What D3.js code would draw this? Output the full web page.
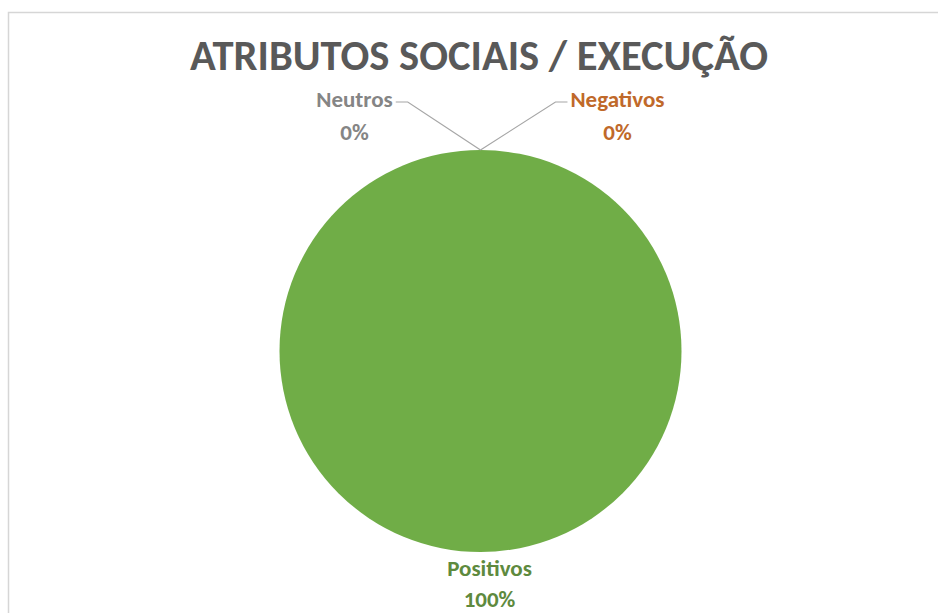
<!DOCTYPE html>
<html>
<head>
<meta charset="utf-8">
<script src="https://cdn.jsdelivr.net/npm/d3@7"></script>
<style>
  html, body { margin: 0; padding: 0; background: #ffffff; }
  svg { display: block; }
  text { font-family: Carlito, Lato, "Open Sans", sans-serif; }
</style>
</head>
<body>
<svg id="chart" width="938" height="613"></svg>
<script>
// Chart data
const title = "ATRIBUTOS SOCIAIS / EXECUÇÃO";
const categories = ["Positivos", "Negativos", "Neutros"];
const values = [100, 0, 0];
const colors = ["#70AD47", "#C55A11", "#7F7F7F"];
const labelColors = ["#5E8A3E", "#C0692A", "#858585"];

const W = 938, H = 613;
const svg = d3.select("#chart");

// Chart area frame (runs off the right and bottom edges)
svg.append("rect")
  .attr("x", 8.5).attr("y", 12.5)
  .attr("width", 1000).attr("height", 700)
  .attr("fill", "#ffffff")
  .attr("stroke", "#d6d6d6")
  .attr("stroke-width", 1.5);

// Title
const titleText = svg.append("text")
  .attr("x", 479).attr("y", 70)
  .attr("text-anchor", "middle")
  .attr("fill", "#595959")
  .attr("font-weight", 700)
  .attr("font-size", 35)
  .text(title);
// fit title to its width
const tw = titleText.node().getComputedTextLength();
titleText.attr("font-size", 35 * 578 / tw);

// Pie
const cx = 480.5, cy = 351, r = 201;
const pie = d3.pie().sort(null).value(d => d.value);
const data = categories.map((c, i) => ({ name: c, value: values[i], color: colors[i], labelColor: labelColors[i] }));
const arcs = pie(data);
const arc = d3.arc().innerRadius(0).outerRadius(r);
const edgeArc = d3.arc().innerRadius(r).outerRadius(r);

const g = svg.append("g").attr("transform", `translate(${cx},${cy})`);
g.selectAll("path.slice")
  .data(arcs.filter(d => d.endAngle > d.startAngle))
  .join("path")
  .attr("class", "slice")
  .attr("d", arc)
  .attr("fill", d => d.data.color);

// Data labels: name + percentage, placed relative to each slice's edge point
const total = d3.sum(values);
const fmt = d3.format(".0%");
const labelOffsets = {
  "Positivos": { dx: 9, dy: 24, side: 0, gap: 31 },
  "Negativos": { dx: 137, dy: -43, side: 1, gap: 33 },
  "Neutros":   { dx: -126, dy: -43, side: -1, gap: 33 }
};
const fontSize = 23;

arcs.forEach(d => {
  const [ex, ey] = edgeArc.centroid(d);
  const off = labelOffsets[d.data.name];
  const lx = ex + off.dx, ly = ey + off.dy;   // baseline of the first line
  const t = g.append("text")
    .attr("text-anchor", "middle")
    .attr("fill", d.data.labelColor)
    .attr("font-weight", 700)
    .attr("font-size", fontSize);
  t.append("tspan").attr("x", lx).attr("y", ly).text(d.data.name);
  t.append("tspan").attr("x", lx).attr("y", ly + off.gap).text(fmt(d.data.value / total));

  if (off.side !== 0) {
    // leader line from the label's near edge down to the slice edge
    const w = t.select("tspan").node().getComputedTextLength();
    const nearX = lx - off.side * (w / 2 + 3);
    const elbowX = nearX - off.side * 12;
    const lineY = ly - 5;
    g.append("polyline")
      .attr("points", [[nearX, lineY], [elbowX, lineY], [ex, ey]].map(p => p.join(",")).join(" "))
      .attr("fill", "none")
      .attr("stroke", "#A6A6A6")
      .attr("stroke-width", 1.2);
  }
});
</script>
</body>
</html>
